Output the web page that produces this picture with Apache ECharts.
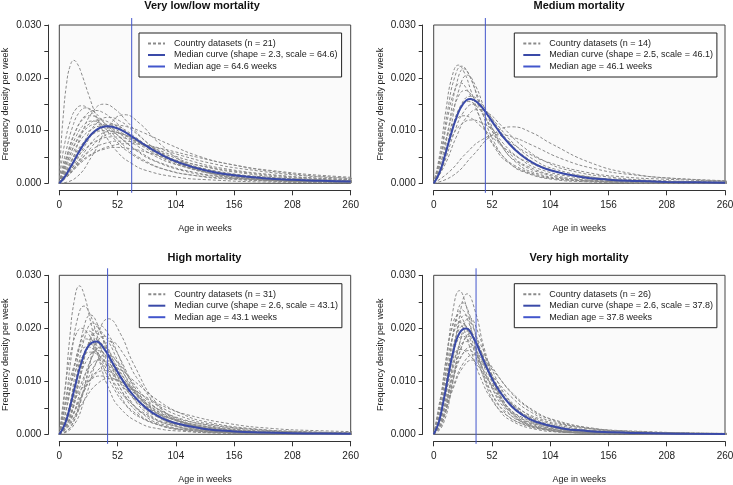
<!DOCTYPE html>
<html><head><meta charset="utf-8">
<script src="https://cdn.jsdelivr.net/npm/echarts@6/dist/echarts.min.js"></script>
<style>html,body{margin:0;padding:0;background:#fff}#c{width:733px;height:485px}</style>
</head><body><div id="c"></div>
<script>
// ---------- DATA ----------
const panelTitles = ['Very low/low mortality', 'Medium mortality', 'High mortality', 'Very high mortality'];
const countryCounts = [21, 14, 31, 26];
const medianShapes = [2.3, 2.5, 2.6, 2.6];
const medianScales = [64.6, 46.1, 43.1, 37.8];
const medianAgesWeeks = [64.6, 46.1, 43.1, 37.8];
const ageTicks = [0, 52, 104, 156, 208, 260];
const densityMax = 0.03;

// Very low / low mortality: country curves (age in weeks, density per week)
const lowAges = [
 [0,1.3,3.25,6.5,9.75,13,16.25,19.5,26,32.5,39,52,65,78,104,130,195,260],
 [0,2,5,10,15,20,25,30,40,50,60,80,100,120,160,200,300],
 [0,3.2,8,16,24,32,40,48,64,80,96,128,160,192,256,320],
 [0,10,20,30,40,50,60,80,100,120,160,200,240,320],
 [0,14.5,29,43.5,58,72.5,87,116,145,174,232,290],
 [0,3.6,9,18,27,36,45,54,72,90,108,144,180,216,288],
 [0,11.25,22.5,33.75,45,56.25,67.5,90,112.5,135,180,225,270],
 [0,4.2,10.5,21,31.5,42,52.5,63,84,105,126,168,210,252,336],
 [0,12.5,25,37.5,50,62.5,75,100,125,150,200,250,300],
 [0,4.8,12,24,36,48,60,72,96,120,144,192,240,288],
 [0,5.5,13.75,27.5,41.25,55,68.75,82.5,110,137.5,165,220,275],
 [0,5.2,13,26,39,52,65,78,104,130,156,208,260],
 [0,6.2,15.5,31,46.5,62,77.5,93,124,155,186,248,310],
 [0,2.8,7,14,21,28,35,42,56,70,84,112,140,168,224,280],
 [0,2.4,6,12,18,24,30,36,48,60,72,96,120,144,192,240,360],
 [0,3.8,9.5,19,28.5,38,47.5,57,76,95,114,152,190,228,304],
 [0,11.5,23,34.5,46,57.5,69,92,115,138,184,230,276],
 [0,3.4,8.5,17,25.5,34,42.5,51,68,85,102,136,170,204,272],
 [0,11,22,33,44,55,66,88,110,132,176,220,264],
 [0,5,12.5,25,37.5,50,62.5,75,100,125,150,200,250,300],
 [0,3,7.5,15,22.5,30,37.5,45,60,75,90,120,150,180,240,300]
];
const lowDens = [
 [0,.0061,.0121,.0189,.0223,.0233,.0226,.021,.0169,.013,.0099,.0059,.0037,.0024,.0012,.0007,.0002,.0001],
 [0,.0038,.0077,.0119,.0141,.0147,.0143,.0132,.0106,.0082,.0062,.0037,.0023,.0015,.0008,.0004,.0001],
 [0,.0024,.0059,.0105,.013,.0138,.0133,.012,.009,.0065,.0046,.0024,.0014,.0009,.0004,.0002],
 [0,.0037,.0094,.0136,.015,.014,.0118,.0074,.0044,.0027,.0011,.0005,.0003,.0001],
 [0,.001,.0051,.0106,.013,.0112,.008,.0034,.0014,.0007,.0002,.0001],
 [0,.0021,.0051,.0091,.0113,.012,.0115,.0104,.0078,.0056,.004,.0021,.0012,.0008,.0003],
 [0,.0028,.007,.0102,.0112,.0104,.0088,.0055,.0033,.002,.0008,.0004,.0002],
 [0,.0018,.0043,.0076,.0095,.01,.0096,.0087,.0065,.0047,.0033,.0018,.001,.0006,.0003],
 [0,.0024,.0059,.0086,.0095,.0089,.0075,.0047,.0028,.0017,.0007,.0003,.0002],
 [0,.0016,.0038,.0067,.0083,.0088,.0085,.0077,.0057,.0041,.0029,.0016,.0009,.0006],
 [0,.0014,.0034,.0061,.0076,.008,.0077,.007,.0052,.0037,.0027,.0014,.0008],
 [0,.0012,.0029,.0052,.0064,.0068,.0065,.0059,.0044,.0032,.0023,.0012,.0007],
 [0,.0013,.0032,.0057,.0071,.0075,.0072,.0065,.0049,.0035,.0025,.0013,.0008],
 [0,.0023,.0055,.0097,.0121,.0128,.0123,.0111,.0084,.006,.0043,.0023,.0013,.0008,.0004,.0002],
 [0,.0025,.0061,.0108,.0135,.0143,.0137,.0125,.0093,.0067,.0048,.0025,.0015,.0009,.0004,.0002,.0001],
 [0,.0019,.0046,.0082,.0102,.0108,.0104,.0094,.0071,.005,.0036,.0019,.0011,.0007,.0003],
 [0,.0024,.0061,.0089,.0098,.0091,.0077,.0048,.0029,.0018,.0007,.0004,.0002],
 [0,.002,.0048,.0085,.0106,.0112,.0108,.0098,.0073,.0052,.0037,.002,.0011,.0007,.0003],
 [0,.0031,.0078,.0113,.0125,.0117,.0099,.0062,.0037,.0022,.0009,.0005,.0002],
 [0,.0019,.0047,.0083,.0104,.011,.0106,.0096,.0072,.0051,.0037,.002,.0011,.0007],
 [0,.0021,.005,.0089,.0112,.0118,.0113,.0103,.0077,.0055,.0039,.0021,.0012,.0007,.0003,.0002]
];
const lowMedianAges = [0,5,10,15,20,25,30,36,43,48,55,65,78,91,104,130,156,182,208,234,260];
const lowMedianDens = [0,.00127,.00307,.00498,.00681,.00837,.00957,.01048,.01082,.01068,.01011,.00885,.00704,.00543,.00415,.00246,.00152,.00098,.00066,.00046,.00033];

// Medium mortality
const medAges = [
 [0,5.5,11,16.5,22,27.5,33,44,55,66,88,110,132,176,220,264],
 [0,6.25,12.5,18.75,25,31.25,37.5,50,62.5,75,100,125,150,200,250,300],
 [0,6.75,13.5,20.25,27,33.75,40.5,54,67.5,81,108,135,162,216,270],
 [0,7.5,15,22.5,30,37.5,45,60,75,90,120,150,180,240,300],
 [0,6,12,18,24,30,36,48,60,72,96,120,144,192,240,288],
 [0,7,14,21,28,35,42,56,70,84,112,140,168,224,280],
 [0,8.25,16.5,24.75,33,41.25,49.5,66,82.5,99,132,165,198,264],
 [0,9,18,27,36,45,54,72,90,108,144,180,216,288],
 [0,2.7,6.75,13.5,20.25,27,33.75,40.5,54,67.5,81,108,135,162,216,270],
 [0,10,20,30,40,50,60,80,100,120,160,200,240,320],
 [0,17.5,35,52.5,70,87.5,105,140,175,210,280],
 [0,14.5,29,43.5,58,72.5,87,116,145,174,232,290],
 [0,7.75,15.5,23.25,31,38.75,46.5,62,77.5,93,124,155,186,248,310],
 [0,3.4,8.5,17,25.5,34,42.5,51,68,85,102,136,170,204,272]
];
const medDens = [
 [0,.0056,.014,.0203,.0224,.0209,.0177,.011,.0066,.004,.0017,.0008,.0005,.0002,.0001,0],
 [0,.0055,.0138,.0201,.0222,.0207,.0175,.0109,.0065,.004,.0017,.0008,.0004,.0002,.0001,0],
 [0,.003,.0108,.0187,.0217,.0195,.0152,.0078,.0039,.0021,.0007,.0003,.0001,0,0],
 [0,.0028,.0102,.0177,.0205,.0184,.0144,.0074,.0037,.002,.0007,.0003,.0001,0,0],
 [0,.0047,.0118,.0172,.019,.0177,.015,.0094,.0056,.0034,.0014,.0007,.0004,.0001,.0001,0],
 [0,.0044,.011,.016,.0176,.0164,.0139,.0087,.0052,.0032,.0013,.0006,.0004,.0001,.0001],
 [0,.0041,.0103,.015,.0165,.0154,.013,.0081,.0049,.003,.0012,.0006,.0003,.0001],
 [0,.0037,.0094,.0136,.015,.014,.0118,.0074,.0044,.0027,.0011,.0005,.0003,.0001],
 [0,.0023,.0055,.0097,.0121,.0128,.0123,.0111,.0084,.006,.0043,.0023,.0013,.0008,.0004,.0002],
 [0,.0035,.0087,.0127,.014,.0131,.011,.0069,.0041,.0025,.0011,.0005,.0003,.0001],
 [0,.0015,.0053,.0092,.0107,.0096,.0075,.0039,.0019,.001,.0004],
 [0,.0023,.0057,.0083,.0092,.0086,.0073,.0045,.0027,.0017,.0007,.0003],
 [0,.0039,.0097,.0141,.0155,.0145,.0122,.0076,.0046,.0028,.0012,.0006,.0003,.0001,.0001],
 [0,.0021,.0051,.0091,.0113,.012,.0115,.0104,.0078,.0056,.004,.0021,.0012,.0008,.0003]
];
const medMedianAges = [0,5,10,15,20,26,33,40,48,56,65,78,91,104,130,156,182,208,234,260];
const medMedianDens = [0,.00192,.00525,.00895,.01226,.01497,.01598,.01514,.01299,.01053,.00804,.00535,.00359,.00246,.00125,.00069,.00042,.00027,.00018,.00012];

// High mortality
const highAges = [
 [0,4.5,9,13.5,18,22.5,27,36,45,54,72,90,108,144,180,216,270],
 [0,5.5,11,16.5,22,27.5,33,44,55,66,88,110,132,176,220,264],
 [0,11,22,33,44,55,66,88,110,132,176,220,264],
 [0,7.5,15,22.5,30,37.5,45,60,75,90,120,150,180,240,300],
 [0,9,18,27,36,45,54,72,90,108,144,180,216,288],
 [0,6.5,13,19.5,26,32.5,39,52,65,78,104,130,156,208,260],
 [0,8.25,16.5,24.75,33,41.25,49.5,66,82.5,99,132,165,198,264],
 [0,10,20,30,40,50,60,80,100,120,160,200,240,320],
 [0,6,12,18,24,30,36,48,60,72,96,120,144,192,240,288],
 [0,7.5,15,22.5,30,37.5,45,60,75,90,120,150,180,240,300],
 [0,9.5,19,28.5,38,47.5,57,76,95,114,152,190,228,304],
 [0,8.5,17,25.5,34,42.5,51,68,85,102,136,170,204,272],
 [0,10.5,21,31.5,42,52.5,63,84,105,126,168,210,252,336],
 [0,2.8,7,14,21,28,35,42,56,70,84,112,140,168,224,280],
 [0,11,22,33,44,55,66,88,110,132,176,220,264],
 [0,10,20,30,40,50,60,80,100,120,160,200,240,320],
 [0,11.25,22.5,33.75,45,56.25,67.5,90,112.5,135,180,225,270],
 [0,9,18,27,36,45,54,72,90,108,144,180,216,288],
 [0,2,5,10,15,20,25,30,40,50,60,80,100,120,160,200,300],
 [0,11.5,23,34.5,46,57.5,69,92,115,138,184,230,276],
 [0,8,16,24,32,40,48,64,80,96,128,160,192,256,320],
 [0,3.8,9.5,19,28.5,38,47.5,57,76,95,114,152,190,228,304],
 [0,2.5,6.25,12.5,18.75,25,31.25,37.5,50,62.5,75,100,125,150,200,250,375],
 [0,8.75,17.5,26.25,35,43.75,52.5,70,87.5,105,140,175,210,280],
 [0,7,14,21,28,35,42,56,70,84,112,140,168,224,280]
];
const highDens = [
 [0,.007,.0175,.0254,.028,.0261,.0221,.0138,.0082,.005,.0021,.001,.0006,.0002,.0001,.0001,0],
 [0,.006,.0151,.022,.0242,.0226,.0191,.0119,.0071,.0043,.0018,.0009,.0005,.0002,.0001,0],
 [0,.0016,.0085,.0178,.0218,.0188,.0134,.0056,.0024,.0011,.0003,.0001,.0001],
 [0,.0029,.0105,.0181,.021,.0189,.0147,.0076,.0038,.002,.0007,.0003,.0001,0,0],
 [0,.0028,.0102,.0177,.0205,.0184,.0144,.0074,.0037,.002,.0007,.0003,.0001,0],
 [0,.0048,.0122,.0177,.0195,.0182,.0154,.0096,.0057,.0035,.0015,.0007,.0004,.0001,.0001],
 [0,.0026,.0095,.0164,.019,.0171,.0133,.0068,.0034,.0018,.0006,.0003,.0001,0],
 [0,.0014,.0072,.0151,.0185,.016,.0114,.0048,.002,.001,.0003,.0001,0,0],
 [0,.0045,.0112,.0163,.018,.0168,.0142,.0089,.0053,.0032,.0014,.0007,.0004,.0001,.0001,0],
 [0,.0042,.0106,.0154,.017,.0159,.0134,.0084,.005,.0031,.0013,.0006,.0003,.0001,.0001],
 [0,.0023,.0082,.0142,.0165,.0148,.0116,.0059,.003,.0016,.0005,.0002,.0001,0],
 [0,.0039,.0099,.0143,.0158,.0147,.0125,.0078,.0047,.0028,.0012,.0006,.0003,.0001],
 [0,.0021,.0075,.013,.015,.0135,.0105,.0054,.0027,.0014,.0005,.0002,.0001,0],
 [0,.0027,.0066,.0117,.0147,.0155,.0149,.0135,.0101,.0072,.0052,.0027,.0016,.001,.0004,.0002],
 [0,.0032,.0081,.0118,.013,.0121,.0102,.0064,.0038,.0023,.001,.0005,.0003],
 [0,.003,.0075,.0109,.012,.0112,.0095,.0059,.0035,.0022,.0009,.0004,.0002,.0001],
 [0,.0026,.0065,.0095,.0105,.0098,.0083,.0052,.0031,.0019,.0008,.0004,.0002],
 [0,.0035,.0087,.0127,.014,.0131,.011,.0069,.0041,.0025,.0011,.0005,.0003,.0001],
 [0,.0035,.0085,.0151,.0189,.02,.0192,.0174,.0131,.0094,.0067,.0035,.002,.0013,.0006,.0003,.0001],
 [0,.0013,.0068,.0143,.0175,.0151,.0107,.0045,.0019,.0009,.0003,.0001,0],
 [0,.0044,.0111,.0161,.0178,.0166,.014,.0088,.0052,.0032,.0013,.0007,.0004,.0001,.0001],
 [0,.0019,.0047,.0083,.0104,.011,.0106,.0096,.0072,.0051,.0037,.002,.0011,.0007,.0003],
 [0,.0029,.007,.0125,.0156,.0165,.0159,.0144,.0108,.0077,.0055,.0029,.0017,.001,.0005,.0002,.0001],
 [0,.0027,.0097,.0168,.0195,.0175,.0137,.007,.0035,.0019,.0006,.0003,.0001,0],
 [0,.0031,.0112,.0194,.0225,.0203,.0158,.0081,.0041,.0022,.0007,.0003,.0002,0,0]
];
const highMedianAges = [0,5,10,15,20,26,33,40,48,56,65,78,91,104,130,156,182,208,234,260];
const highMedianDens = [0,.00191,.00558,.00984,.01369,.01669,.0175,.0161,.01328,.01036,.00761,.00484,.00313,.00209,.00102,.00055,.00032,.0002,.00013,.00009];

// Very high mortality
const vhighAges = [
 [0,5.75,11.5,17.25,23,28.75,34.5,46,57.5,69,92,115,138,184,230,276],
 [0,7.5,15,22.5,30,37.5,45,60,75,90,120,150,180,240,300],
 [0,6.5,13,19.5,26,32.5,39,52,65,78,104,130,156,208,260],
 [0,6.25,12.5,18.75,25,31.25,37.5,50,62.5,75,100,125,150,200,250,300],
 [0,5.5,11,16.5,22,27.5,33,44,55,66,88,110,132,176,220,264],
 [0,7,14,21,28,35,42,56,70,84,112,140,168,224,280],
 [0,8,16,24,32,40,48,64,80,96,128,160,192,256,320],
 [0,6,12,18,24,30,36,48,60,72,96,120,144,192,240,288],
 [0,6.75,13.5,20.25,27,33.75,40.5,54,67.5,81,108,135,162,216,270],
 [0,7.5,15,22.5,30,37.5,45,60,75,90,120,150,180,240,300],
 [0,8.25,16.5,24.75,33,41.25,49.5,66,82.5,99,132,165,198,264],
 [0,6.5,13,19.5,26,32.5,39,52,65,78,104,130,156,208,260],
 [0,7.25,14.5,21.75,29,36.25,43.5,58,72.5,87,116,145,174,232,290],
 [0,8.5,17,25.5,34,42.5,51,68,85,102,136,170,204,272],
 [0,7.75,15.5,23.25,31,38.75,46.5,62,77.5,93,124,155,186,248,310],
 [0,8.75,17.5,26.25,35,43.75,52.5,70,87.5,105,140,175,210,280],
 [0,9,18,27,36,45,54,72,90,108,144,180,216,288],
 [0,2.4,6,12,18,24,30,36,48,60,72,96,120,144,192,240,360],
 [0,5.25,10.5,15.75,21,26.25,31.5,42,52.5,63,84,105,126,168,210,252,315],
 [0,8,16,24,32,40,48,64,80,96,128,160,192,256,320]
];
const vhighDens = [
 [0,.0038,.0135,.0234,.0271,.0244,.019,.0098,.0049,.0026,.0009,.0004,.0002,.0001,0,0],
 [0,.002,.0103,.0216,.0265,.0229,.0163,.0068,.0029,.0014,.0004,.0001,.0001,0,0],
 [0,.0034,.0124,.0214,.0248,.0223,.0174,.0089,.0045,.0024,.0008,.0003,.0002,.0001,0],
 [0,.0033,.0117,.0203,.0235,.0211,.0165,.0085,.0043,.0023,.0008,.0003,.0002,.0001,0,0],
 [0,.0056,.014,.0204,.0225,.021,.0177,.0111,.0066,.004,.0017,.0008,.0004,.0002,.0001,0],
 [0,.0031,.0112,.0194,.0225,.0203,.0158,.0081,.0041,.0022,.0007,.0003,.0002,0,0],
 [0,.0017,.0086,.0179,.022,.019,.0135,.0057,.0024,.0011,.0003,.0001,.0001,0,0],
 [0,.0053,.0132,.0192,.0212,.0198,.0167,.0104,.0062,.0038,.0016,.0008,.0004,.0002,.0001,0],
 [0,.0051,.0128,.0186,.0205,.0191,.0162,.0101,.006,.0037,.0015,.0008,.0004,.0002,.0001],
 [0,.0027,.0097,.0168,.0195,.0175,.0137,.007,.0035,.0019,.0006,.0003,.0001,0,0],
 [0,.0026,.0095,.0164,.019,.0171,.0133,.0068,.0034,.0018,.0006,.0003,.0001,0],
 [0,.0046,.0115,.0168,.0185,.0173,.0146,.0091,.0054,.0033,.0014,.0007,.0004,.0001,.0001],
 [0,.0043,.0109,.0159,.0175,.0163,.0138,.0086,.0052,.0031,.0013,.0006,.0003,.0001,.0001],
 [0,.0041,.0103,.015,.0165,.0154,.013,.0081,.0049,.003,.0012,.0006,.0003,.0001],
 [0,.0039,.0099,.0143,.0158,.0147,.0125,.0078,.0047,.0028,.0012,.0006,.0003,.0001,.0001],
 [0,.0035,.0087,.0127,.014,.0131,.011,.0069,.0041,.0025,.0011,.0005,.0003,.0001],
 [0,.0037,.0094,.0136,.015,.014,.0118,.0074,.0044,.0027,.0011,.0005,.0003,.0001],
 [0,.0028,.0068,.0121,.0151,.016,.0154,.0139,.0104,.0075,.0053,.0028,.0016,.001,.0005,.0002,.0001],
 [0,.0053,.0134,.0195,.0215,.0201,.0169,.0106,.0063,.0039,.0016,.0008,.0004,.0002,.0001,0,0],
 [0,.0026,.0092,.016,.0185,.0166,.013,.0067,.0034,.0018,.0006,.0003,.0001,0,0]
];
const vhighMedianAges = [0,4.4,8.8,13.2,17.5,22.8,28.9,35.1,42.1,49.1,57,68.4,79.8,91.2,114,136.8,159.6,182.4,205.2,228,260];
const vhighMedianDens = [0,.00217,.00636,.01122,.01561,.01903,.01996,.01835,.01514,.01181,.00868,.00552,.00357,.00238,.00116,.00063,.00037,.00023,.00015,.0001,.00007];

// ---------- LAYOUT / STYLE ----------
const FONT = "'Liberation Sans', Arial, Helvetica, sans-serif";
const GRAY = '#8a8a8a';
const BLUE = '#3a4aa8';
const VBLUE = '#4356cc';
const grids = [
  {left: 59.3, top: 25, width: 291.4, height: 158.3},
  {left: 433.7, top: 25, width: 291.3, height: 158.3},
  {left: 59.3, top: 275.3, width: 291.4, height: 159},
  {left: 433.7, top: 275.3, width: 291.3, height: 159}
];
const titlePos = [[202, 0], [579, 0], [204.5, 252.8], [579, 252.8]];
const legendPos = [[139, 33], [514.3, 33], [139.3, 283.7], [514.3, 283.7]];

const curveAges = [lowAges, medAges, highAges, vhighAges];
const curveDens = [lowDens, medDens, highDens, vhighDens];
const medAgesArr = [lowMedianAges, medMedianAges, highMedianAges, vhighMedianAges];
const medDensArr = [lowMedianDens, medMedianDens, highMedianDens, vhighMedianDens];

const noSymbol = {symbol: 'none', symbolSize: 0, showSymbol: false, showAllSymbol: false, emphasis: {disabled: true}};
const series = [];
const legends = [];
const titles = [];
grids.forEach((g, i) => {
  const countryName = 'Country datasets (n = ' + countryCounts[i] + ')';
  const medName = 'Median curve (shape = ' + medianShapes[i].toFixed(1) + ', scale = ' + medianScales[i].toFixed(1) + ')';
  const ageName = 'Median age = ' + medianAgesWeeks[i].toFixed(1) + ' weeks';
  curveAges[i].forEach((ages, j) => {
    series.push(Object.assign({
      type: 'line', name: countryName, xAxisIndex: i, yAxisIndex: i,
      data: ages.map((a, k) => [a, curveDens[i][j][k]]),
      smooth: 0.5,
      lineStyle: {color: GRAY, width: 1, type: [3, 2]}, itemStyle: {color: GRAY, opacity: 0},
      silent: true, z: 2
    }, noSymbol));
  });
  series.push(Object.assign({
    type: 'line', name: medName, xAxisIndex: i, yAxisIndex: i,
    data: medAgesArr[i].map((a, k) => [a, medDensArr[i][k]]),
    smooth: 0.5,
    lineStyle: {color: BLUE, width: 2}, itemStyle: {color: BLUE, opacity: 0}, silent: true, z: 3
  }, noSymbol));
  // vertical median-age line at x = median age, running a little past the plot box like the original
  series.push(Object.assign({
    type: 'line', name: ageName, xAxisIndex: i, yAxisIndex: i,
    data: [[medianAgesWeeks[i], -densityMax * 0.06], [medianAgesWeeks[i], densityMax * 1.044]],
    clip: false, silent: true,
    lineStyle: {color: VBLUE, width: 1, type: 'solid'}, itemStyle: {color: VBLUE, opacity: 0}, z: 4
  }, noSymbol));
  legends.push({
    left: legendPos[i][0], top: legendPos[i][1], orient: 'vertical',
    backgroundColor: '#fff', borderColor: '#222', borderWidth: 1,
    padding: [6, 4, 6, 8], itemWidth: 17, itemHeight: 9, itemGap: 2.5,
    selectedMode: false,
    itemStyle: {opacity: 0},
    textStyle: {fontSize: 9, color: '#222', fontFamily: FONT, padding: [0, 0, 0, 4]},
    data: [countryName, medName, ageName]
  });
  titles.push({
    text: panelTitles[i], left: titlePos[i][0], top: titlePos[i][1], textAlign: 'center', padding: 0,
    textStyle: {fontSize: 11, fontWeight: 'bold', color: '#111', fontFamily: FONT}
  });
});

const option = {
  animation: false,
  backgroundColor: '#fff',
  title: titles,
  legend: legends,
  grid: grids.map(g => Object.assign({show: true, backgroundColor: '#fafafa', borderColor: '#444', borderWidth: 1, containLabel: false, outerBoundsMode: 'none'}, g)),
  xAxis: grids.map((g, i) => ({
    gridIndex: i, type: 'value', min: ageTicks[0], max: ageTicks[ageTicks.length - 1], interval: ageTicks[1] - ageTicks[0],
    offset: 7,
    axisLine: {show: true, onZero: false, lineStyle: {color: '#333', width: 1}},
    axisTick: {show: true, length: 5, lineStyle: {color: '#333'}},
    axisLabel: {fontSize: 10, color: '#222', margin: 10, fontFamily: FONT},
    splitLine: {show: false},
    name: 'Age in weeks', nameLocation: 'middle', nameGap: 34,
    nameTextStyle: {fontSize: 9, color: '#222', fontFamily: FONT}
  })),
  yAxis: grids.map((g, i) => ({
    gridIndex: i, type: 'value', min: 0, max: densityMax, interval: 0.005,
    offset: 11,
    axisLine: {show: true, onZero: false, lineStyle: {color: '#333', width: 1}},
    axisTick: {show: true, length: 4, lineStyle: {color: '#333'}},
    axisLabel: {fontSize: 10, color: '#222', margin: 7, fontFamily: FONT,
      formatter: v => { const k = Math.round(v * 1000); return k % 10 === 0 ? (k / 1000).toFixed(3) : ''; }},
    splitLine: {show: false},
    name: 'Frequency density per week', nameLocation: 'middle', nameRotate: 90, nameGap: 38,
    nameTextStyle: {fontSize: 9, color: '#222', fontFamily: FONT}
  })),
  series: series
};
const chart = echarts.init(document.getElementById('c'), null, {renderer: 'canvas'});
chart.setOption(option);
</script></body></html>
